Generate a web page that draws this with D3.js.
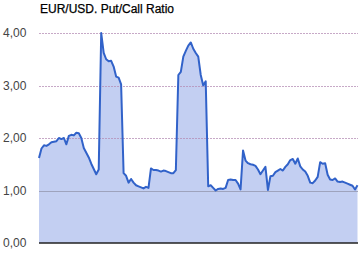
<!DOCTYPE html>
<html>
<head>
<meta charset="utf-8">
<script src="https://cdn.jsdelivr.net/npm/d3@7"></script>
<style>
  html, body { margin: 0; padding: 0; background: #fff; }
  svg { display: block; }
</style>
</head>
<body>
<div id="chart"></div>
<script>
const title = "EUR/USD. Put/Call Ratio";
const yTicks = [0, 1, 2, 3, 4];
const ratioValues = [
  1.62, 1.80, 1.86, 1.85, 1.88, 1.92, 1.93, 1.94, 2.00, 1.98,
  2.00, 1.88, 2.04, 2.06, 2.05, 2.10, 2.09, 2.00, 1.81, 1.72,
  1.63, 1.51, 1.41, 1.31, 1.40, 4.00, 3.62, 3.50, 3.46, 3.47,
  3.36, 3.17, 3.15, 3.02, 1.33, 1.28, 1.15, 1.22, 1.15, 1.10,
  1.08, 1.06, 1.04, 1.07, 1.05, 1.42, 1.39, 1.39, 1.38, 1.36,
  1.38, 1.37, 1.35, 1.33, 1.33, 1.39, 3.20, 3.26, 3.55, 3.66,
  3.76, 3.82, 3.70, 3.62, 3.55, 3.20, 3.00, 3.08, 1.08, 1.10,
  1.05, 1.00, 1.03, 1.04, 1.03, 1.05, 1.20, 1.21, 1.20, 1.20,
  1.13, 1.02, 1.76, 1.57, 1.52, 1.50, 1.49, 1.47, 1.40, 1.31,
  1.38, 1.45, 1.01, 1.27, 1.28, 1.35, 1.38, 1.41, 1.38, 1.45,
  1.50, 1.58, 1.60, 1.51, 1.61, 1.46, 1.40, 1.36, 1.28, 1.15,
  1.14, 1.19, 1.26, 1.54, 1.51, 1.52, 1.30, 1.21, 1.20, 1.23,
  1.17, 1.16, 1.17, 1.15, 1.13, 1.11, 1.09, 1.02, 1.10
];

const width = 363;
const height = 253;
const margin = { top: 33, right: 5, bottom: 10, left: 39 };

const svg = d3.select("#chart")
  .append("svg")
  .attr("width", width)
  .attr("height", height);

const x = d3.scaleLinear()
  .domain([0, ratioValues.length - 1])
  .range([margin.left, width - margin.right - 0.5]);

const y = d3.scaleLinear()
  .domain([0, 4])
  .range([height - margin.bottom, margin.top]);

svg.append("text")
  .attr("x", 40)
  .attr("y", 13)
  .style("font-family", "Arial, 'Liberation Sans', sans-serif")
  .style("font-size", "12px")
  .style("fill", "#000")
  .style("stroke", "#000")
  .style("stroke-width", 0.25)
  .text(title);

// area fill
const area = d3.area()
  .x((d, i) => x(i))
  .y0(y(0))
  .y1(d => y(d));

svg.append("path")
  .datum(ratioValues)
  .attr("d", area)
  .style("fill", "#c3cff2");

// grid lines over the fill
svg.append("g")
  .selectAll("line")
  .data(yTicks.filter(t => t > 0))
  .enter()
  .append("line")
  .attr("x1", margin.left)
  .attr("x2", width - margin.right)
  .attr("y1", d => Math.round(y(d)) + 0.5)
  .attr("y2", d => Math.round(y(d)) + 0.5)
  .style("stroke", d => d === 1 ? "#9ea3bd" : "#b48cb4")
  .style("stroke-opacity", d => d === 1 ? 1 : 0.75)
  .style("stroke-dasharray", d => d === 1 ? null : "2,1");

// line
const line = d3.line()
  .x((d, i) => x(i))
  .y(d => y(d));

svg.append("path")
  .datum(ratioValues)
  .attr("d", line)
  .style("fill", "none")
  .style("stroke", "#3162c9")
  .style("stroke-width", 2)
  .style("stroke-linejoin", "round");

// baseline
svg.append("line")
  .attr("x1", margin.left)
  .attr("x2", width - margin.right)
  .attr("y1", y(0))
  .attr("y2", y(0))
  .style("stroke", "#222")
  .style("stroke-width", 1.5);

// y labels
svg.append("g")
  .selectAll("text")
  .data(yTicks)
  .enter()
  .append("text")
  .attr("x", 3)
  .attr("y", d => y(d))
  .attr("dy", "0.35em")
  .style("font-family", "Arial, 'Liberation Sans', sans-serif")
  .style("font-size", "12px")
  .style("fill", "#444")
  .text(d => d3.format(".2f")(d).replace(".", ","));
</script>
</body>
</html>
